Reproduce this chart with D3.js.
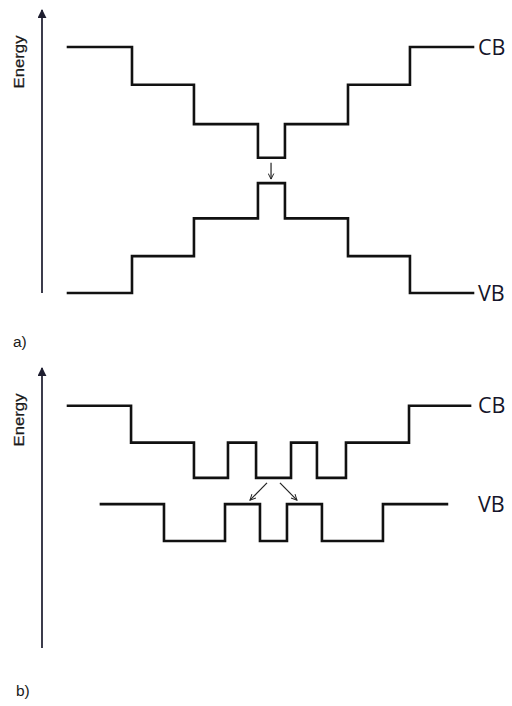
<!DOCTYPE html>
<html>
<head>
<meta charset="utf-8">
<script src="https://cdn.jsdelivr.net/npm/d3@7"></script>
<style>
  html, body { margin: 0; padding: 0; background: #fff; }
  svg { display: block; }
</style>
</head>
<body>
<script>
// Band-edge profiles (position in nm, energy in eV) for two heterostructure layouts.

// a) graded stack: bands narrow toward the centre layer
const posA = [0, 4.74, 9.33, 14.07, 16.07, 20.74, 25.33, 30];
const cbA = [3.0, 2.54, 2.06, 1.65, 2.06, 2.54, 3.0];
const vbA = [0, 0.45, 0.91, 1.34, 0.91, 0.45, 0];

// b) alternating wells / barriers
const posCbB = [0, 4.67, 9.33, 11.85, 13.93, 16.52, 18.44, 20.59, 25.26, 29.78];
const cbB = [1.65, 1.2, 0.77, 1.2, 0.77, 1.2, 0.77, 1.2, 1.65];
const posVbB = [2.44, 7.11, 11.63, 14.22, 16.22, 18.81, 23.33, 28.07];
const vbB = [0.45, 0, 0.45, 0, 0.45, 0, 0.45];

// electron transitions: [start position, end position]
const transA = [[15.04, 15.04]];
const transB = [[14.74, 13.48], [15.7, 16.96]];

const bandLabels = ["CB", "VB"];
const panelLabels = ["a)", "b)"];
const axisTitle = "Energy";

const W = 512, H = 706;
const svg = d3.select("body").append("svg").attr("width", W).attr("height", H);

const defs = svg.append("defs");
defs.append("marker")
  .attr("id", "axisHead").attr("viewBox", "0 0 10 10")
  .attr("refX", 9).attr("refY", 5)
  .attr("markerWidth", 9).attr("markerHeight", 9)
  .attr("markerUnits", "userSpaceOnUse")
  .attr("orient", "auto")
  .append("path").attr("d", "M0,0 L10,5 L0,10 Z").attr("fill", "#1e1e30");
defs.append("marker")
  .attr("id", "openHead").attr("viewBox", "0 0 10 10")
  .attr("refX", 9).attr("refY", 5)
  .attr("markerWidth", 7).attr("markerHeight", 7)
  .attr("markerUnits", "userSpaceOnUse")
  .attr("orient", "auto")
  .append("path").attr("d", "M1,1 L9,5 L1,9").attr("fill", "none")
  .attr("stroke", "#222").attr("stroke-width", 1.4);

const x = d3.scaleLinear().domain([0, 30]).range([68, 473]);

const stepLine = (y) => d3.line()
  .x(d => x(d[0])).y(d => y(d[1]))
  .curve(d3.curveStepAfter);

function profile(edges, levels) {
  const pts = levels.map((l, i) => [edges[i], l]);
  pts.push([edges[edges.length - 1], levels[levels.length - 1]]);
  return pts;
}

function panel(cfg) {
  const g = svg.append("g");
  const y = cfg.y;

  // energy axis
  g.append("line")
    .attr("x1", 42).attr("x2", 42)
    .attr("y1", cfg.axisBottom).attr("y2", cfg.axisTop)
    .attr("stroke", "#262638").attr("stroke-width", 1.8)
    .attr("marker-end", "url(#axisHead)");
  g.append("text")
    .attr("transform", `translate(24,${cfg.titleY}) rotate(-90)`)
    .attr("text-anchor", "middle")
    .attr("font-family", "Liberation Sans, Arial, sans-serif")
    .attr("font-size", 14.5)
    .attr("textLength", 53).attr("lengthAdjust", "spacingAndGlyphs")
    .attr("fill", "#1a1a1a")
    .attr("stroke", "#1a1a1a").attr("stroke-width", 0.25)
    .text(axisTitle);

  // band edges
  cfg.bands.forEach(b => {
    g.append("path")
      .attr("d", stepLine(y)(profile(b.edges, b.levels)))
      .attr("fill", "none").attr("stroke", "#111")
      .attr("stroke-width", 2.6)
      .attr("stroke-linejoin", "miter").attr("stroke-linecap", "square");
  });

  // band names
  cfg.bands.forEach((b, i) => {
    g.append("text")
      .attr("x", 478).attr("y", y(b.levels[b.levels.length - 1]))
      .attr("dy", "0.36em")
      .attr("font-family", "Open Sans, Liberation Sans, sans-serif")
      .attr("font-size", 21.5)
      .attr("fill", "#15152a")
      .text(bandLabels[i]);
  });

  // transitions between conduction and valence band
  cfg.trans.forEach(t => {
    g.append("line")
      .attr("x1", x(t[0])).attr("y1", y(cfg.fromE) + 5)
      .attr("x2", x(t[1])).attr("y2", y(cfg.toE) - 4)
      .attr("stroke", "#222").attr("stroke-width", 1.2)
      .attr("marker-end", "url(#openHead)");
  });

  g.append("text")
    .attr("x", cfg.tagX).attr("y", cfg.tagY)
    .attr("font-family", "Liberation Sans, Arial, sans-serif")
    .attr("font-size", 15.5).attr("fill", "#1a1a1a")
    .text(cfg.tag);
}

const yA = d3.scaleLinear().domain([0, 3]).range([293, 47]);
panel({
  y: yA, axisTop: 10, axisBottom: 293, titleY: 62,
  bands: [{ edges: posA, levels: cbA }, { edges: posA, levels: vbA }],
  trans: transA, fromE: 1.65, toE: 1.34,
  tag: panelLabels[0], tagX: 13, tagY: 347
});

const yB = d3.scaleLinear().domain([0, 1.65]).range([541, 405.7]);
panel({
  y: yB, axisTop: 368, axisBottom: 648, titleY: 420,
  bands: [{ edges: posCbB, levels: cbB }, { edges: posVbB, levels: vbB }],
  trans: transB, fromE: 0.77, toE: 0.45,
  tag: panelLabels[1], tagX: 16, tagY: 696
});
</script>
</body>
</html>
